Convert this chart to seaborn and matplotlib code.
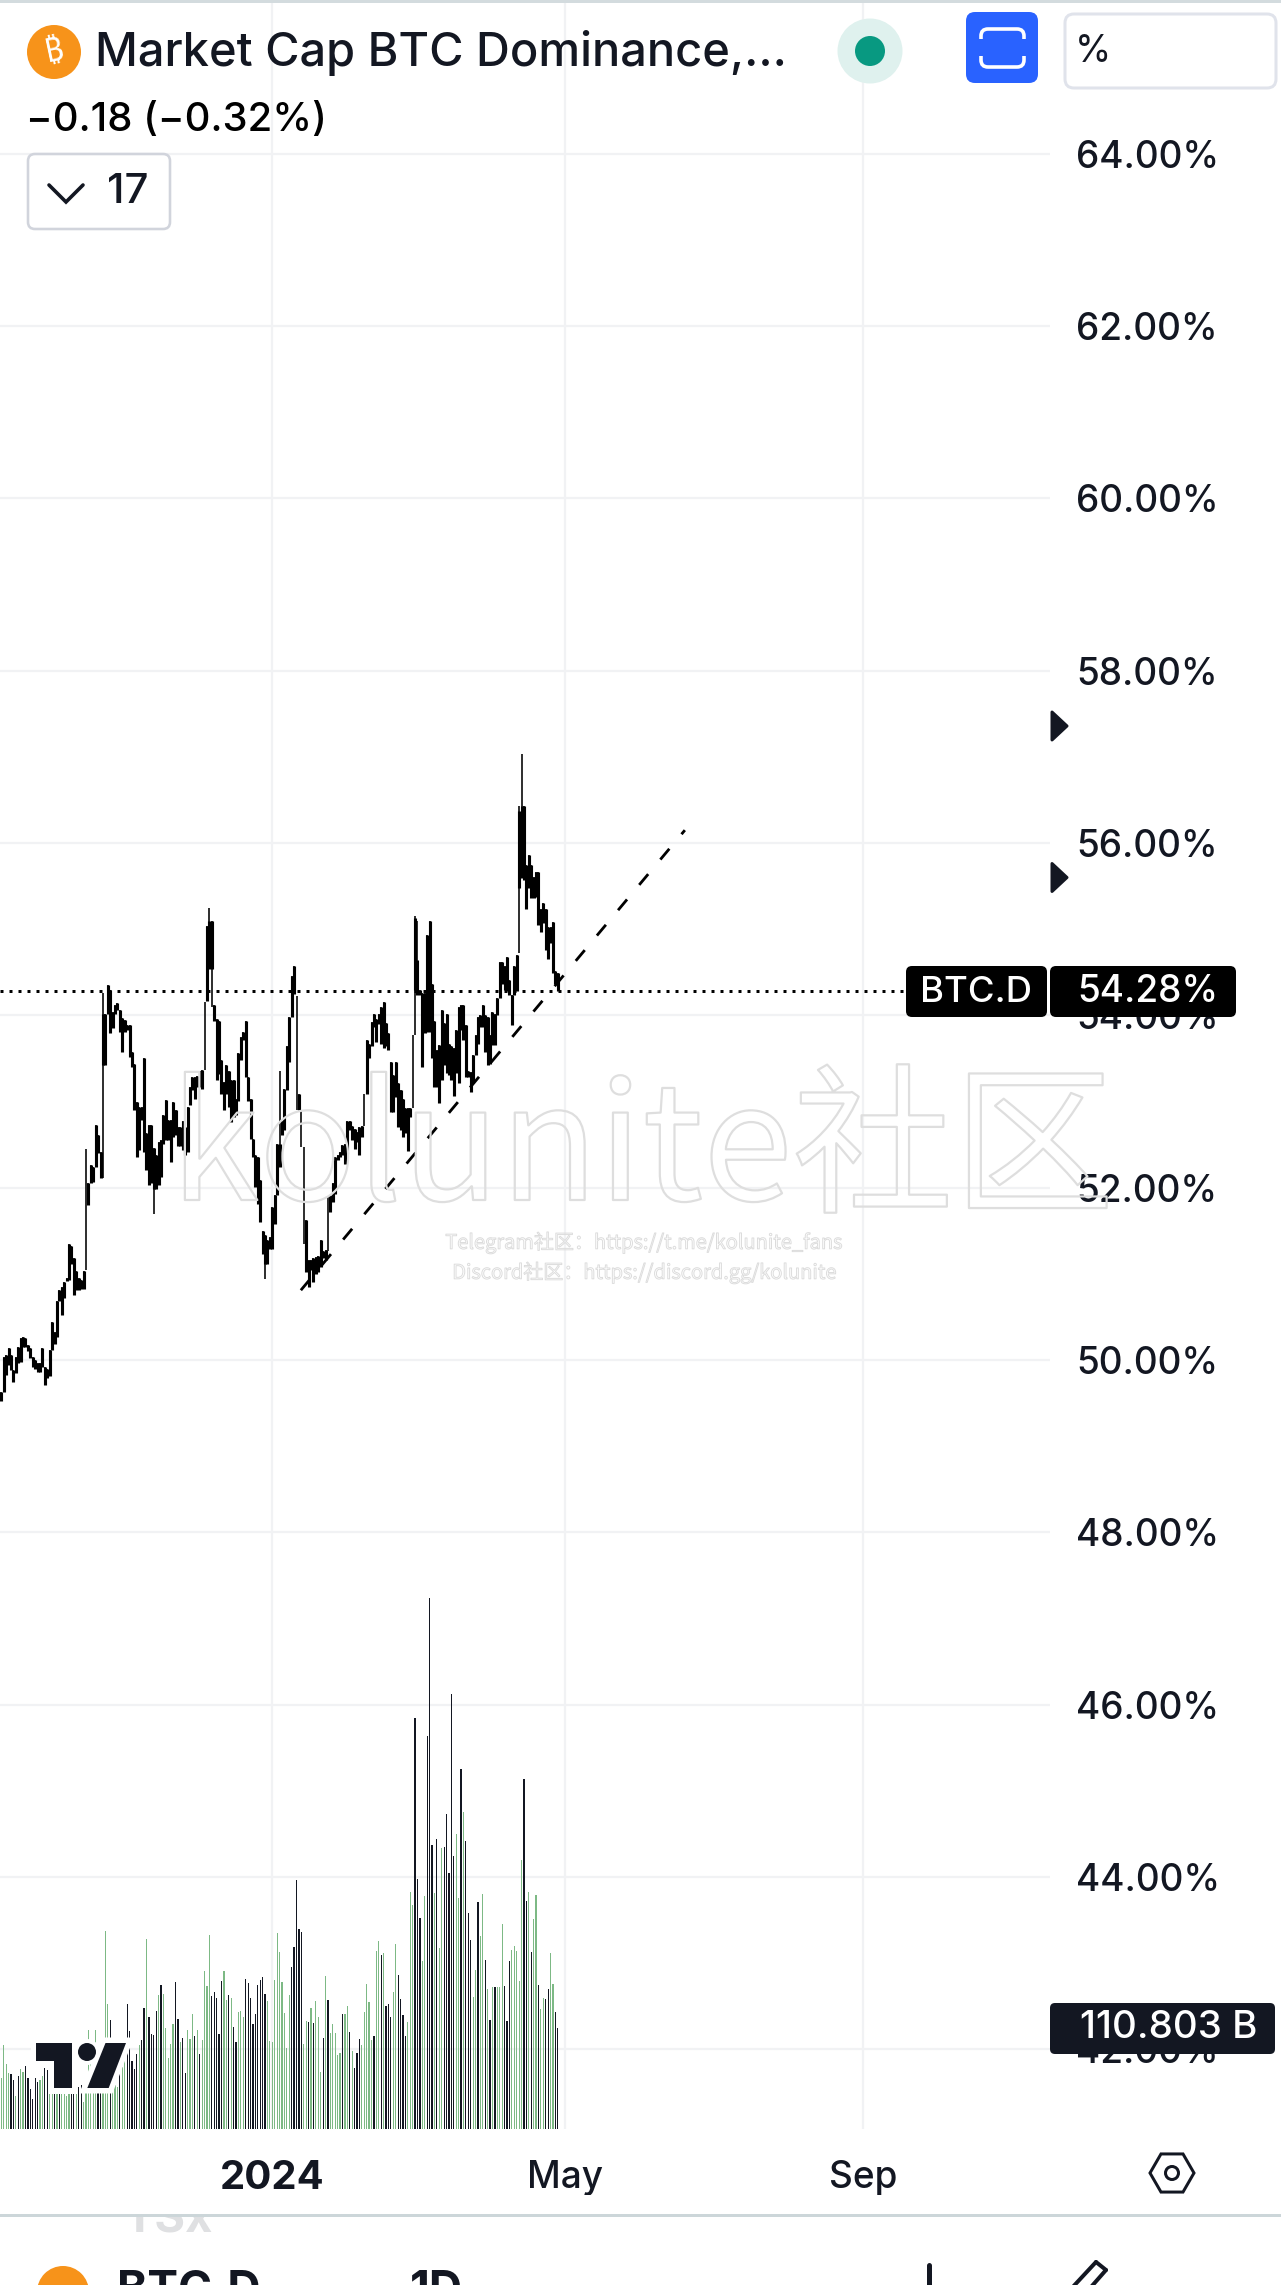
import numpy as np
import pandas as pd
import matplotlib
matplotlib.use("Agg")
import matplotlib.pyplot as plt
import matplotlib.patheffects as pe
from matplotlib.patches import Circle, FancyBboxPatch, Polygon, Rectangle
import seaborn as sns

highs = [49.63,50.04,50.06,50.14,50.06,49.88,50.04,50.15,50.25,50.27,50.25,50.17,50.14,50.04,50.00,49.96,49.96,50.14,49.92,49.90,
50.12,50.44,50.33,50.68,50.81,50.85,50.90,50.95,51.35,51.32,51.18,51.03,50.95,50.93,51.03,52.45,52.05,52.26,52.24,52.73,
52.61,52.42,54.26,54.02,54.35,54.29,54.04,54.12,54.14,54.06,53.97,53.95,53.89,53.89,53.58,53.44,53.00,52.94,52.94,53.50,
52.63,52.73,52.73,52.46,52.38,52.53,52.55,52.84,53.02,52.79,52.79,53.00,52.90,52.71,52.71,52.77,52.71,52.94,
53.17,53.28,53.28,53.30,53.36,53.37,54.15,55.04,55.25,55.10,54.12,53.96,53.94,53.48,53.23,53.42,53.36,53.25,53.25,53.03,
53.56,53.75,53.81,53.94,53.28,53.03,52.57,52.38,52.36,52.09,51.50,51.45,51.39,51.43,51.78,51.91,52.51,53.36,52.78,53.15,
53.65,53.98,54.46,54.57,54.23,53.09,52.90,52.47,51.62,51.16,51.16,51.18,51.20,51.21,51.39,51.27,51.28,51.89,51.91,52.05,
52.36,52.38,52.41,52.49,52.51,52.78,52.78,52.72,52.68,52.65,52.70,52.72,53.09,53.71,53.67,53.92,54.02,53.96,54.02,
54.10,54.16,53.91,53.79,53.46,53.31,53.46,53.21,53.13,53.03,52.92,52.92,52.92,53.77,55.15,55.09,54.29,54.26,54.26,54.93,
55.09,54.37,53.93,53.60,53.66,54.06,53.91,54.02,53.67,53.64,53.62,53.83,54.10,54.12,54.12,53.89,53.36,53.34,53.54,53.77,
53.98,54.00,54.12,54.00,53.98,53.77,54.04,54.02,54.20,54.62,54.62,54.57,54.68,54.41,54.24,54.57,54.70,56.43,57.04,56.43,
55.75,55.86,55.75,55.61,55.67,55.67,55.24,55.30,55.24,55.03,55.03,55.08,54.51,54.49]
lows = [49.52,49.63,49.83,49.94,49.88,49.75,49.85,49.96,49.98,50.15,50.15,50.10,50.02,49.92,49.90,49.86,49.86,49.92,49.71,49.79,
49.81,50.12,50.19,50.27,50.68,50.52,50.72,50.92,50.93,51.12,50.75,50.81,50.81,50.82,50.82,51.04,51.80,52.05,52.07,52.24,
52.40,52.11,52.11,53.42,54.02,53.79,53.85,54.02,54.06,53.81,53.58,53.81,53.83,53.52,53.40,52.90,52.36,52.44,52.79,52.42,
52.20,52.03,52.05,51.70,51.99,52.03,52.13,52.51,52.55,52.55,52.30,52.59,52.61,52.48,52.48,52.44,52.38,52.42,
52.96,53.13,53.03,53.17,53.17,53.15,53.37,54.17,54.54,54.10,53.94,53.25,53.32,53.09,52.90,53.09,52.94,52.76,52.82,52.84,
53.01,53.48,53.71,53.28,53.01,52.57,52.36,52.01,51.81,51.60,51.23,50.94,51.12,51.29,51.29,51.58,51.91,52.24,52.61,52.67,
53.13,53.46,53.98,54.25,52.90,52.90,52.47,51.35,51.02,50.85,51.04,50.91,51.00,51.02,51.08,51.18,51.16,51.27,51.72,51.83,
51.93,52.32,52.36,52.38,52.28,52.39,52.67,52.55,52.45,52.53,52.38,52.59,52.72,53.09,53.50,53.65,53.86,53.69,53.90,
53.67,53.62,53.64,53.60,52.88,52.88,53.05,52.71,52.67,52.59,52.63,52.43,52.82,52.92,53.77,54.24,54.24,53.40,53.79,53.81,
53.81,53.50,53.17,53.17,52.98,53.25,53.42,53.33,53.31,53.25,53.07,53.33,53.21,53.83,53.71,53.29,53.29,53.11,53.21,53.54,
53.67,53.87,53.87,53.58,53.42,53.44,53.66,53.66,54.00,54.20,54.37,54.29,54.28,54.24,53.89,54.24,54.28,54.72,55.59,55.57,
55.24,55.48,55.36,55.36,55.38,55.05,54.97,55.07,54.76,54.66,54.84,54.49,54.37,54.28]
wick_only = [35, 84, 122, 124, 125, 135, 150, 170]
body_override = {42:(54.02,53.42), 63:(52.46,51.99), 86:(55.10,54.54), 87:(55.10,54.54), 109:(51.45,51.12),
                 115:(52.51,52.24), 171:(55.13,54.29), 172:(54.64,54.24), 214:(56.37,55.48), 215:(56.43,55.59)}

volumes = [55.7,92,71.9,62,60.9,54.3,35.9,57.9,65.6,62.3,68.9,56.5,43.6,32.6,55.7,51.3,53.5,57.9,67.5,64.5,
46.2,46.2,44.4,46.2,42.5,53.5,42.5,35.9,49.9,46.2,49.9,44.4,46.2,48,29.3,53.5,108.5,75.5,68.2,108.5,68.2,79.2,68.2,217.5,137.1,119.5,42.5,48,46.2,61.6,68.2,75.5,137.9,107.4,74.4,65.6,82.9,92,97.5,133.5,208.7,123.2,104.1,103,129.4,147,158,148.9,110.7,78.5,93.9,115.1,161.3,120.6,95.3,99.7,61.6,108.5,
99.4,126.1,102.7,109.3,82.9,97.5,173.4,156.9,213,145.9,150.3,144.5,104.1,162.4,173.4,141.5,147.8,144.5,111.8,95.3,128.3,129.4,122.8,164.6,161,143.7,115.1,126.1,158.8,163.5,166.8,148.1,140.4,96.4,95.3,163.5,215.2,194.3,161.3,127.2,88.7,147,177.8,199.8,273.5,220.4,216.3,93.9,118.4,117.3,132.7,116.2,140.4,122.8,62.3,99.7,167.9,141.5,105.2,115.1,105.2,81,83.2,126.1,126.1,134.9,106.3,85.4,66.7,83.2,98.6,92,128.3,159.1,139.3,97.5,101.9,195.4,206.4,
191.2,193.4,135,137.2,122.7,150.2,203.4,169,142.6,125,102.1,117.4,260.3,246.2,451.9,274.9,231.7,184.7,256.1,432,583.8,312.7,259.2,318.8,198.8,308.9,310,346.4,281.4,478.3,300.1,324.2,253.8,396.4,348.3,316.5,237.4,207.6,144.9,174.7,249.3,212.2,258.1,185.4,153.7,119.7,156,156,156,156,225.2,157.1,118.5,184.7,196.5,201.1,195.4,162.5,295.5,384.6,250.4,260.3,194.6,230.5,256.9,158.3,131.9,143.7,142.6,153.7,193.4,159,128.5,110.8]
volume_dir = ("ggggbbgbggbbbbbbggbb"
              "ggbgb" "ggggb" "bgbbg" "ggggg" "bbggg" "bgggb" "ggbbb" "bbgbb" "gbbbb" "gbggg" "ggbbg" "bbg"
              "ggbgb" "ggggb" "bbbbg" "gbgbb" "gggbb" "bbbbb" "bbggg" "ggggg" "ggbbb" "bbggb" "gbggg" "bgbgg" "gggbg" "gbgbb" "bgggg" "gbgg"
              "bgbbb" "ggbbb" "bgggb" "bbggb" "bbgbg" "gbbbb" "bggbg" "bbbgg" "bggbg" "bgbgg" "gbbbg" "ggggb" "bgbgg" "bggbb" "ggbb")
n_bars = min(len(volumes), len(volume_dir))
n_candles = min(len(highs), len(lows))

price_ticks = list(range(42, 66, 2))
price_labels = [f"{t}.00%" for t in price_ticks]
time_ticks = [112, 233, 356]
time_labels = ["2024", "May", "Sep"]
last_price = 54.28
trend_x = [123.8, 282.5]
trend_y = [50.81, 56.15]

W, H = 1281, 2285
INK = "#131722"
GRID = "#f1f2f4"
GREEN = "#7db985"
FONT = "Inter"
PX = 0.72  # points per pixel at dpi 100

sns.set_theme(style="white")
plt.rcParams["font.family"] = [FONT, "DejaVu Sans"]
fig = plt.figure(figsize=(W/100, H/100), dpi=100, facecolor="white")

# pane: x 0..1050 px, y 0..2129 px
pane = [0, 1-2129/H, 1050/W, 2129/H]
ax = fig.add_axes(pane, facecolor="none", zorder=1)
axv = fig.add_axes(pane, facecolor="none", zorder=2)

xlim = (-0.537, 433.4)
df = pd.DataFrame({"i": np.arange(n_bars), "v": volumes[:n_bars], "d": list(volume_dir[:n_bars])})
sns.barplot(data=df, x="i", y="v", hue="d", native_scale=True, dodge=False, width=0.5,
            palette={"g": GREEN, "b": INK}, saturation=1, errorbar=None, legend=False,
            linewidth=0, ax=axv)
axv.set_xlim(*xlim)
axv.set_ylim(0, 2129*1.1)
axv.axis("off")

ax.set_xlim(*xlim)
ax.set_ylim(50-(2129-1360)/86.15, 50+1360/86.15)
for s in ax.spines.values():
    s.set_visible(False)
ax.set_yticks(price_ticks)
ax.set_yticklabels(price_labels)
ax.yaxis.tick_right()
ax.set_xticks(time_ticks)
ax.set_xticklabels(time_labels)
ax.tick_params(axis="y", length=0, pad=19, labelsize=37*PX, labelcolor=INK)
ax.tick_params(axis="x", length=0, pad=22, labelsize=37*PX, labelcolor=INK)
for lab in ax.get_xticklabels()+ax.get_yticklabels():
    lab.set_fontweight("medium")
ax.get_xticklabels()[0].set_fontweight("bold")
ax.get_xticklabels()[0].set_fontsize(40*PX)
ax.grid(True, color=GRID, lw=2.2*PX)
ax.set_axisbelow(True)

idx = np.arange(n_candles)
ax.vlines(idx, lows[:n_candles], highs[:n_candles], color="black", lw=1.6*PX, zorder=5)
btop = [body_override.get(i, (highs[i], lows[i]))[0] for i in idx]
bbot = [body_override.get(i, (highs[i], lows[i]))[1] for i in idx]
keep = [i for i in idx if i not in wick_only]
ax.vlines(keep, [bbot[i] for i in keep], [btop[i] for i in keep], color="black", lw=3.1*PX, zorder=5)

ax.plot(trend_x, trend_y, color="black", lw=2.8*PX, dashes=(14/2.8, 19/2.8), dash_capstyle="butt", zorder=4)
ax.plot([xlim[0], xlim[1]-60], [last_price]*2, color="black", lw=3*PX, dashes=(1, 2), dash_capstyle="butt",
        zorder=4)

# overlay in pixel coordinates
ov = fig.add_axes([0, 0, 1, 1], facecolor="none", zorder=10)
ov.set_xlim(0, W)
ov.set_ylim(H, 0)
ov.axis("off")

def box(x0, y0, x1, y1, r, fc, ec="none", lw=0, z=3):
    p = FancyBboxPatch((x0+r, y0+r), x1-x0-2*r, y1-y0-2*r, boxstyle=f"round,pad={r},rounding_size={r}",
                       fc=fc, ec=ec, lw=lw*PX, zorder=z, mutation_aspect=1)
    ov.add_patch(p)

# chart frame rules
ov.add_patch(Rectangle((0, 0), W, 3, fc="#d3dbde", ec="none"))
ov.add_patch(Rectangle((0, 2214), W, 2.5, fc="#ccd6d9", ec="none"))

# watermark
ov.text(642, 1200, "kolunite社区", fontsize=161*PX, color="none", ha="center", va="baseline",
        family=["Noto Sans CJK SC"], fontweight="light",
        path_effects=[pe.Stroke(linewidth=1.6, foreground="#dedede")], zorder=1)
for yy, tt in [(1243, "Telegram社区：https://t.me/kolunite_fans"), (1273, "Discord社区：https://discord.gg/kolunite")]:
    ov.text(644, yy, tt, fontsize=20*PX, color="none", ha="center", va="center", family=["Noto Sans CJK SC"],
            path_effects=[pe.Stroke(linewidth=0.7, foreground="#dcdcdc")], zorder=1)

# header
ov.add_patch(Circle((54, 52), 27, fc="#f7931a", ec="none"))
ov.text(54, 52, "₿", color="white", fontsize=32*PX, fontweight="bold", ha="center", va="center", rotation=12,
        family=["Noto Sans", "Roboto", "Open Sans", "DejaVu Sans"])
ov.text(95, 53, "Market Cap BTC Dominance,...", color=INK, fontsize=47*PX, fontweight="medium", va="center")
ov.text(26, 121, "−0.18 (−0.32%)", color="black", fontsize=40*PX, fontweight="medium", va="center")
box(28, 154, 170, 229, 7, "white", "#d1d4dc", 2.6)
ov.plot([49, 66, 83], [185, 202, 185], color=INK, lw=3.6*PX, solid_capstyle="round", solid_joinstyle="miter", zorder=4)
ov.text(128, 192, "17", color=INK, fontsize=42*PX, fontweight="medium", ha="center", va="center", zorder=4)

ov.add_patch(Circle((870, 51), 32.5, fc="#dff1ee", ec="none"))
ov.add_patch(Circle((870, 51), 15, fc="#089981", ec="none"))

box(966, 12, 1038, 83, 9, "#2962ff")
box(981, 29, 1024, 67, 7, "none", "white", 3.6, z=4)
ov.add_patch(Rectangle((976, 39), 53, 17, fc="#2962ff", ec="none", zorder=5))

box(1065, 14, 1276, 88, 9, "white", "#e0e3eb", 3)
ov.text(1075, 52, "%", color=INK, fontsize=37*PX, va="center", zorder=5)

# scale arrows
for yy in (726, 877.5):
    ov.add_patch(Polygon([(1052, yy-14), (1067, yy), (1052, yy+14)], closed=True, fc=INK, ec=INK, lw=3*PX, joinstyle="round"))

# last value labels
box(906, 966, 1047, 1017, 6, "black", z=6)
box(1050, 966, 1236, 1017, 6, "black", z=6)
ov.text(976, 992, "BTC.D", color="white", fontsize=36.5*PX, fontweight="medium", ha="center", va="center", zorder=7)
ov.text(1148, 992, "54.28%", color="white", fontsize=37*PX, fontweight="medium", ha="center", va="center", zorder=7)
box(1050, 2003, 1275, 2054, 5, INK, z=6)
ov.text(1169, 2028, "110.803 B", color="white", fontsize=38.5*PX, fontweight="medium", ha="center", va="center", zorder=7)

# logo
t_pts = [(36, 2043), (72, 2043), (72, 2088), (54, 2088), (54, 2061), (36, 2061)]
sl_pts = [(105.5, 2043), (126, 2043), (108.7, 2088), (87.3, 2088)]
for pts in (t_pts, sl_pts):
    ov.add_patch(Polygon(pts, closed=True, fc="white", ec="white", lw=11*PX, zorder=4))
    ov.add_patch(Polygon(pts, closed=True, fc=INK, ec="none", zorder=5))
ov.add_patch(Circle((87, 2052), 13, fc="white", ec="none", zorder=4))
ov.add_patch(Circle((87, 2052), 9, fc=INK, ec="none", zorder=5))

# settings hexagon
ang = np.deg2rad(np.arange(0, 360, 60))
ov.add_patch(Polygon(np.c_[1172+22*np.cos(ang), 2173+22*np.sin(ang)], closed=True, fc="none", ec=INK, lw=3*PX))
ov.add_patch(Circle((1172, 2173), 6.5, fc="none", ec=INK, lw=3*PX))

# bottom toolbar remnants
ov.text(168, 2219, "TSx", color="#dfe0e2", fontsize=47*PX, fontweight="bold", ha="center", va="center", zorder=0.5)
ov.add_patch(Rectangle((0, 2195), W, 19, fc="white", ec="none", zorder=0.8))
ov.add_patch(Circle((63, 2292), 26, fc="#f7931a", ec="none"))
ov.text(117, 2292, "BTC.D", color=INK, fontsize=46*PX, fontweight="bold", va="center")
ov.text(410, 2292, "1D", color=INK, fontsize=46*PX, fontweight="bold", va="center")
ov.plot([929, 929], [2265, 2300], color=INK, lw=5*PX, solid_capstyle="round")
ov.plot([1070, 1096], [2290, 2262], color=INK, lw=4*PX, solid_capstyle="round")
ov.plot([1084, 1106], [2295, 2270], color=INK, lw=4*PX, solid_capstyle="round")
ov.plot([1096, 1106], [2262, 2270], color=INK, lw=4*PX, solid_capstyle="round")

fig.savefig("out.png", dpi=100, facecolor="white")
